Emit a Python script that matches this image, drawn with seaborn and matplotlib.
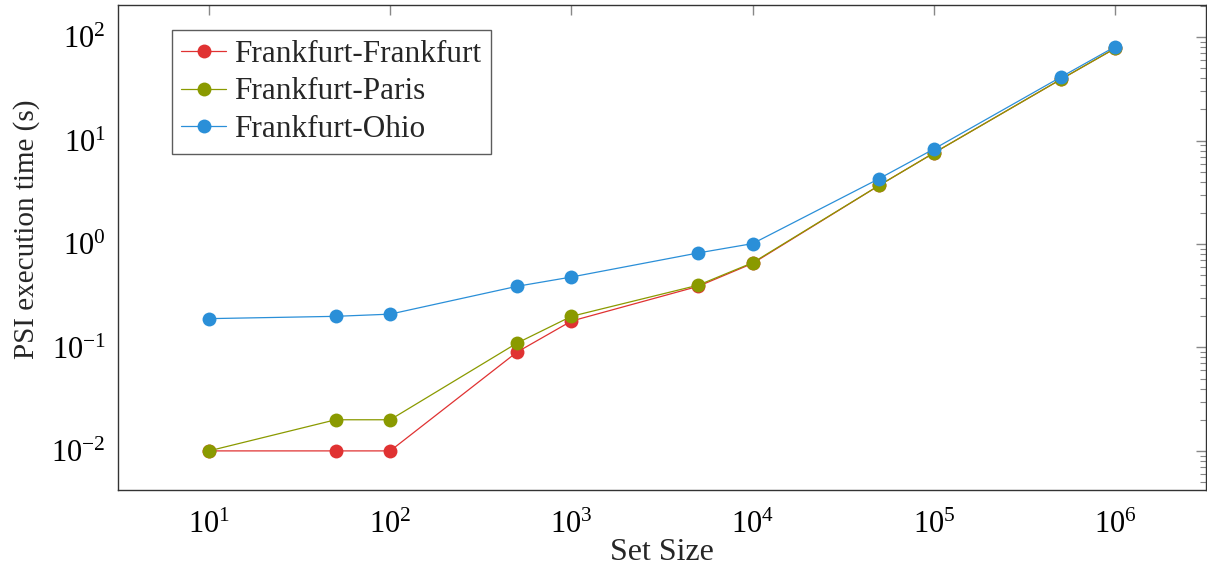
import numpy as np
import pandas as pd
import matplotlib
matplotlib.use("Agg")
import matplotlib.pyplot as plt
import matplotlib.ticker as mticker
import seaborn as sns

# values
set_sizes = [10, 50, 100, 500, 1000, 5000, 10000, 50000, 100000, 500000, 1000000]
fra_fra = [0.01, 0.01, 0.01, 0.09, 0.18, 0.39, 0.65, 3.7, 7.6, 39, 78]
fra_par = [0.01, 0.02, 0.02, 0.11, 0.20, 0.40, 0.66, 3.7, 7.6, 39, 78]
fra_ohi = [0.19, 0.20, 0.21, 0.39, 0.48, 0.82, 1.01, 4.3, 8.3, 41, 81]
series_names = ["Frankfurt-Frankfurt", "Frankfurt-Paris", "Frankfurt-Ohio"]
colors = ["#e03232", "#8a9a00", "#2a8fd8"]

df = pd.DataFrame({
    "size": set_sizes * 3,
    "time": fra_fra + fra_par + fra_ohi,
    "route": np.repeat(series_names, len(set_sizes)),
})

sns.set_style("white")
plt.rcParams["font.family"] = ["Liberation Serif", "DejaVu Serif"]
plt.rcParams["mathtext.fontset"] = "stix"

fig = plt.figure(figsize=(12.07, 5.70), dpi=100)
ax = fig.add_axes([0.098, 0.14, 0.901, 0.851])

sns.lineplot(data=df, x="size", y="time", hue="route", hue_order=series_names,
             palette=colors, marker="o", markersize=10, markeredgewidth=0,
             linewidth=0.9, ax=ax)

ax.set_xscale("log")
ax.set_yscale("log")
ax.set_xlim(10**0.5, 10**6.5)
ax.set_ylim(10**-2.38, 10**2.31)

ax.xaxis.set_major_locator(mticker.LogLocator(base=10, numticks=20))
ax.xaxis.set_minor_locator(mticker.NullLocator())
ax.yaxis.set_major_locator(mticker.LogLocator(base=10, numticks=20))
ax.yaxis.set_minor_locator(mticker.LogLocator(base=10, subs=np.arange(2, 10), numticks=20))
ax.yaxis.set_minor_formatter(mticker.NullFormatter())

ax.tick_params(which="both", direction="in", top=True, right=True, colors="#888888",
               labelcolor="black", labelsize=22)
ax.tick_params(which="major", length=7, width=1)
ax.tick_params(axis="x", which="major", pad=14.5)
ax.tick_params(axis="y", which="major", pad=9)
ax.tick_params(which="minor", length=4.5, width=0.8)
for s in ax.spines.values():
    s.set_color("#333333")
    s.set_linewidth(1)

ax.set_xlabel("Set Size", fontsize=23)
ax.set_ylabel("PSI execution time (s)", fontsize=21)
ax.xaxis.set_label_coords(0.5, -0.098)
ax.yaxis.set_label_coords(-0.072, 0.538)

leg = ax.legend(loc="upper left", bbox_to_anchor=(0.049, 0.948), fontsize=22.5,
                frameon=True, fancybox=False, edgecolor="#333333",
                handlelength=1.45, borderpad=0.3, labelspacing=0.28,
                handletextpad=0.25, borderaxespad=0)
leg.get_frame().set_linewidth(1)

fig.savefig("out.png", dpi=100)
